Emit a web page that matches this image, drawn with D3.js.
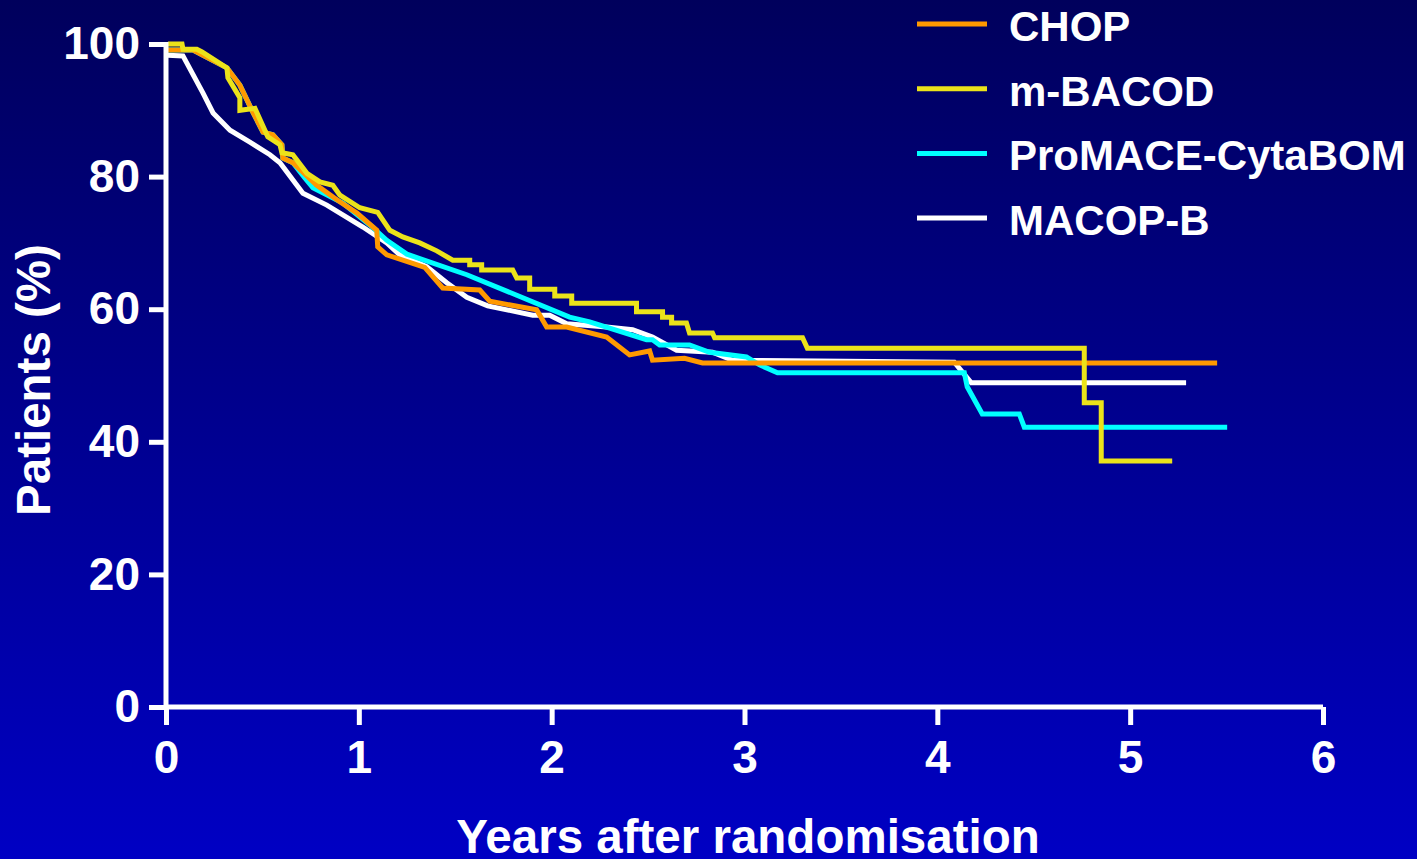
<!DOCTYPE html>
<html lang="en">
  <head>
    <meta charset="utf-8" />
    <title>Survival by regimen</title>
    <script src="https://d3js.org/d3.v7.min.js"></script>
    <style>
      body { margin: 0; overflow: hidden; }
      text { font-family: "Liberation Sans", Arial, sans-serif; font-weight: bold; fill: #fff; }
    </style>
  </head>
  <body>
    <div id="svgContainer"></div>
  </body>
  <script>
    // data: [years, % patients]
    var chop = [[0.01,99.1],[0.14,99.1],[0.316,96.4],[0.383,93.8],[0.451,89.7],[0.503,86.7],[0.554,86.3],
      [0.601,84.8],[0.606,82.8],[0.658,82.1],[0.782,78.7],[0.886,76.5],[0.99,74.5],[1.093,71.9],[1.098,69.4],
      [1.145,68.2],[1.342,66.3],[1.435,63.2],[1.627,62.9],[1.679,61.2],[1.922,59.9],[1.974,57.3],[2.078,57.3],
      [2.285,55.8],[2.404,53.1],[2.508,53.7],[2.523,52.3],[2.689,52.6],[2.782,51.9],[5.451,51.9]];

    var mbacod = [[0.01,100],[0.083,100],[0.088,99.2],[0.16,99.2],[0.187,98.8],[0.316,96.4],[0.321,94.9],
      [0.383,91.9],[0.383,90.0],[0.461,90.3],[0.528,86.0],[0.591,84.8],[0.601,83.6],[0.658,83.3],[0.731,80.5],
      [0.798,79.2],[0.865,78.7],[0.902,77.2],[1.005,75.3],[1.098,74.6],[1.161,71.9],[1.228,70.9],[1.316,70.0],
      [1.404,68.8],[1.487,67.4],[1.575,67.4],[1.575,66.7],[1.637,66.7],[1.637,65.9],[1.798,65.9],[1.819,64.7],
      [1.886,64.7],[1.886,63.0],[2.016,63.0],[2.016,62.0],[2.104,62.0],[2.104,60.9],[2.44,60.9],[2.44,59.6],
      [2.575,59.6],[2.575,58.8],[2.622,58.8],[2.622,57.9],[2.699,57.9],[2.715,56.4],[2.834,56.4],[2.845,55.7],
      [3.301,55.7],[3.326,54.1],[4.762,54.1],[4.762,45.9],[4.85,45.9],[4.85,37.1],[5.218,37.1]];

    var promace = [[0.01,99.1],[0.14,99.1],[0.316,96.4],[0.383,93.8],[0.451,89.7],[0.503,86.7],[0.554,86.3],
      [0.601,84.8],[0.606,82.8],[0.658,82.1],[0.72,79.8],[0.762,78.3],[0.917,76.0],
      [1.057,72.7],[1.145,70.4],[1.249,68.3],[1.56,65.2],[1.819,62.1],[2.093,58.8],[2.197,58.1],[2.492,55.4],
      [2.523,55.4],[2.56,54.6],[2.715,54.6],[2.819,53.5],[3.01,52.8],[3.078,51.6],[3.171,50.4],[4.14,50.4],
      [4.155,48.3],[4.233,44.2],[4.425,44.2],[4.451,42.2],[5.503,42.2]];

    var macopb = [[0.01,98.3],[0.088,98.2],[0.192,92.6],[0.244,89.6],[0.332,87.0],[0.435,85.2],[0.539,83.3],
      [0.591,82.1],[0.71,77.5],[0.834,75.7],[1.021,72.4],[1.145,70.0],[1.212,68.2],[1.352,66.4],[1.456,64.0],
      [1.56,61.8],[1.668,60.5],[1.902,59.1],[1.99,59.1],[2.078,57.8],[2.285,57.3],[2.42,56.9],[2.523,55.8],
      [2.648,53.8],[2.834,53.5],[2.938,52.3],[4.088,52.0],[4.176,48.9],[5.29,48.9]];

    var seriesNames = ["CHOP", "m-BACOD", "ProMACE-CytaBOM", "MACOP-B"];
    var seriesColors = ["#ff9900", "#ebe31a", "#00ffff", "#ffffff"];
    var xTicks = [0, 1, 2, 3, 4, 5, 6];
    var yTicks = [0, 20, 40, 60, 80, 100];

    var width = 1417,
        height = 859;

    var svg = d3.select("#svgContainer")
                .append("svg")
                .attr("width", width)
                .attr("height", height);

    var grad = svg.append("defs").append("linearGradient")
                  .attr("id", "bg").attr("x1", 0).attr("y1", 0).attr("x2", 0).attr("y2", 1);
    grad.append("stop").attr("offset", "0%").attr("stop-color", "#00005c");
    grad.append("stop").attr("offset", "100%").attr("stop-color", "#0000c4");
    svg.append("rect").attr("width", width).attr("height", height).attr("fill", "url(#bg)");

    var x = d3.scaleLinear().domain([0, 6]).range([166, 1323]);
    var y = d3.scaleLinear().domain([0, 100]).range([707, 44]);

    var line = d3.line()
                 .x(function(d) { return x(d[0]); })
                 .y(function(d) { return y(d[1]); });

    // drawing order: white under, yellow on top
    var order = [[macopb, 3], [promace, 2], [chop, 0], [mbacod, 1]];
    order.forEach(function(o) {
      svg.append("path")
         .attr("d", line(o[0]))
         .attr("fill", "none")
         .attr("stroke", seriesColors[o[1]])
         .attr("stroke-width", 5)
         .attr("stroke-linejoin", "miter");
    });

    // axes
    var xAxis = svg.append("g")
                   .attr("transform", "translate(0," + y(0) + ")")
                   .call(d3.axisBottom(x).tickValues(xTicks).tickFormat(d3.format("d"))
                           .tickSize(18).tickSizeOuter(0).tickPadding(15));
    var yAxis = svg.append("g")
                   .attr("transform", "translate(" + x(0) + ",0)")
                   .call(d3.axisLeft(y).tickValues(yTicks).tickFormat(d3.format("d"))
                           .tickSize(17).tickSizeOuter(0).tickPadding(9));

    [xAxis, yAxis].forEach(function(a) {
      a.selectAll("path, line").attr("stroke", "#fff").attr("stroke-width", 5);
      a.selectAll("text")
       .attr("fill", "#fff")
       .style("font-family", "'Liberation Sans', Arial, sans-serif")
       .style("font-weight", "bold")
       .style("font-size", "46px");
    });
    xAxis.select(".domain").attr("d", "M" + (x(0) - 2) + ",0H" + x(6));
    yAxis.select(".domain").attr("d", "M0," + y(0) + "V" + (y(100) - 2));

    svg.append("text")
       .attr("x", 748).attr("y", 853)
       .attr("text-anchor", "middle")
       .style("font-size", "47.5px")
       .text("Years after randomisation");

    svg.append("text")
       .attr("transform", "translate(50,380) rotate(-90)")
       .attr("text-anchor", "middle")
       .style("font-size", "47.5px")
       .text("Patients (%)");

    // legend
    var legend = svg.append("g");
    seriesNames.forEach(function(name, i) {
      var ly = 24 + i * 64.7;
      legend.append("line")
            .attr("x1", 917).attr("x2", 987)
            .attr("y1", ly).attr("y2", ly)
            .attr("stroke", seriesColors[i])
            .attr("stroke-width", 5);
      legend.append("text")
            .attr("x", 1009).attr("y", ly + 17)
            .style("font-size", "42px")
            .text(name);
    });
  </script>
</html>
